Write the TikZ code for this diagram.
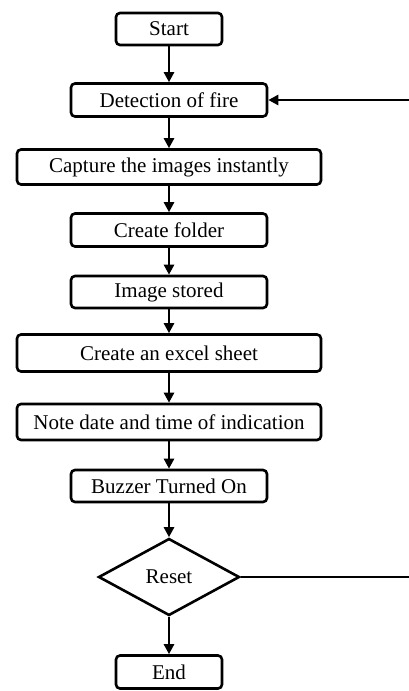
\documentclass[tikz,border=0pt]{standalone}
\usepackage{fontspec}
\setmainfont{Liberation Serif}
\usetikzlibrary{arrows.meta,shapes.geometric}
\begin{document}
\begin{tikzpicture}[x=1pt,y=-1pt,
  box/.style={draw,line width=2.6pt,rounded corners=4pt,inner sep=0pt,align=center,font=\fontsize{21}{25}\selectfont},
  dec/.style={draw,line width=2.6pt,shape=diamond,inner sep=0pt,font=\fontsize{21}{25}\selectfont},
  arr/.style={line width=2.6pt,-{Triangle[length=10pt,width=10pt]}},
  ln/.style={line width=2.6pt}]
\useasboundingbox (0,0) rectangle (408,691);
\node[box,minimum width=106,minimum height=32] (start) at (169,29) {Start};
\node[box,minimum width=196,minimum height=33] (det) at (169,100) {Detection of fire};
\node[box,minimum width=304,minimum height=35] (cap) at (169,167) {Capture the images instantly};
\node[box,minimum width=196,minimum height=33] (fold) at (169,230) {Create folder};
\node[box,minimum width=196,minimum height=32] (img) at (169,292) {Image stored};
\node[box,minimum width=304,minimum height=37] (xls) at (169,353) {Create an excel sheet};
\node[box,minimum width=304,minimum height=36] (note) at (169,422) {Note date and time of indication};
\node[box,minimum width=196,minimum height=32] (buz) at (169,486) {Buzzer Turned On};
\node[dec,minimum width=141,minimum height=77] (reset) at (169,577) {Reset};
\node[box,minimum width=106,minimum height=33] (end) at (169,672) {End};
\coordinate (r1) at (409,100);
\coordinate (r2) at (409,577);
\draw[arr] (start) -- (det);
\draw[arr] (det) -- (cap);
\draw[arr] (cap) -- (fold);
\draw[arr] (fold) -- (img);
\draw[arr] (img) -- (xls);
\draw[arr] (xls) -- (note);
\draw[arr] (note) -- (buz);
\draw[arr] (buz) -- (reset);
\draw[arr] (reset) -- (end);
\draw[ln] (reset.east) -- (r2);
\draw[arr] (r1) -- (det.east);
\end{tikzpicture}
\end{document}
